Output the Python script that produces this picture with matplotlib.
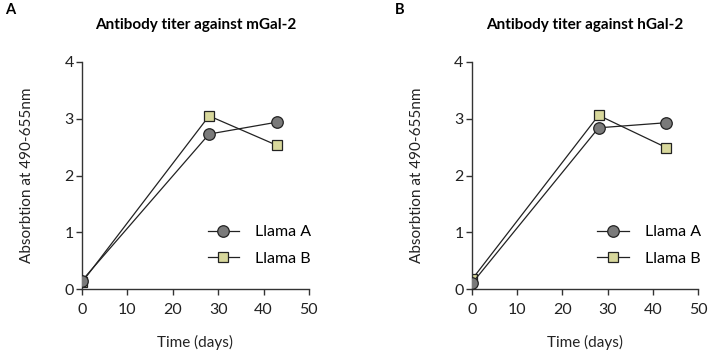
import matplotlib
matplotlib.use("Agg")
from matplotlib import pyplot as plt

days = [0, 28, 43]

# panel A: mGal-2
mgal_llama_a = [0.15, 2.73, 2.94]
mgal_llama_b = [0.12, 3.05, 2.53]
# panel B: hGal-2
hgal_llama_a = [0.10, 2.84, 2.93]
hgal_llama_b = [0.17, 3.06, 2.49]

titles = ["Antibody titer against mGal-2", "Antibody titer against hGal-2"]
letters = ["A", "B"]
x_ticks = [0, 10, 20, 30, 40, 50]
y_ticks = [0, 1, 2, 3, 4]

plt.rcParams["font.family"] = ["Lato", "DejaVu Sans"]

fig = plt.figure(figsize=(7.09, 3.56), dpi=100)
ax_a = fig.add_axes([0.1157, 0.188, 0.320, 0.638])
ax_b = fig.add_axes([0.6657, 0.188, 0.319, 0.638])

spine_col = "#333333"

for ax, a_vals, b_vals, title, letter in [
    (ax_a, mgal_llama_a, mgal_llama_b, titles[0], letters[0]),
    (ax_b, hgal_llama_a, hgal_llama_b, titles[1], letters[1]),
]:
    ax.plot(days, a_vals, color="#222222", lw=0.9, marker="o", ms=8.3,
            mfc="#7a7a7a", mec="#222222", mew=0.9, label="Llama A", zorder=3)
    ax.plot(days, b_vals, color="#222222", lw=0.9, marker="s", ms=7.8,
            mfc="#d8d89c", mec="#222222", mew=0.9, label="Llama B", zorder=2)
    ax.set_xlim(0, 50)
    ax.set_ylim(0, 4)
    ax.set_xticks(x_ticks)
    ax.set_yticks(y_ticks)
    ax.spines["top"].set_visible(False)
    ax.spines["right"].set_visible(False)
    for s in ["left", "bottom"]:
        ax.spines[s].set_color(spine_col)
        ax.spines[s].set_linewidth(1.0)
    ax.tick_params(direction="out", length=4, width=1.0, colors=spine_col,
                   labelcolor="#222222", labelsize=11.5)
    ax.tick_params(axis="x", pad=6)
    ax.tick_params(axis="y", pad=2)
    ax.set_xlabel("Time (days)", fontsize=11, labelpad=13, color="#222222")
    ax.set_ylabel("Absorbtion at 490-655nm", fontsize=11, labelpad=22,
                  color="#222222")
    ax.set_title(title, fontsize=11, fontweight="bold", pad=24)
    ax.text(-0.34, 1.26, letter, transform=ax.transAxes, fontsize=10.5,
            fontweight="bold", va="top", ha="left")
    for lab in ax.get_xticklabels() + ax.get_yticklabels():
        lab.set_clip_on(False)
    ax.legend(loc="lower right", bbox_to_anchor=(1.075, 0.04), frameon=False,
              fontsize=11.5, handlelength=2.0, handletextpad=1.0,
              labelspacing=0.75)

fig.savefig("out.png", dpi=100)
